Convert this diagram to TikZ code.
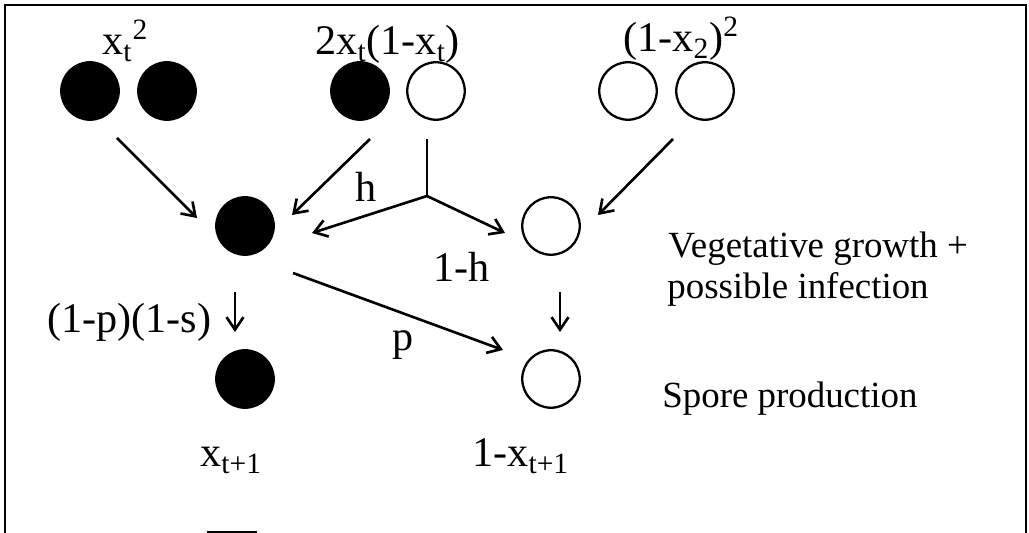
\documentclass[tikz,border=0pt]{standalone}
\usepackage{fontspec}
\setmainfont{Liberation Serif}
\usepackage{tikz}
\usetikzlibrary{arrows.meta,positioning}

\begin{document}
\begin{tikzpicture}[x=0.02cm, y=-0.02cm,
      fullcell/.style={circle, draw, fill=black, line width=1.3pt,
                       minimum size=1.15cm, inner sep=0pt},
      opencell/.style={circle, draw, line width=1.3pt,
                       minimum size=1.15cm, inner sep=0pt},
      flow/.style={-{Straight Barb[length=2.5mm, width=3.4mm]}, line width=1.5pt},
      freq/.style={font=\fontsize{24}{28}\selectfont, anchor=base west, inner sep=0pt},
      stage/.style={font=\fontsize{21}{25}\selectfont, anchor=base west, inner sep=0pt},
    ]
    \useasboundingbox (0,0) rectangle (1029,533);
    % Frame, open at the bottom
    \draw[line width=1.4pt] (5,533) -- (5,5) -- (1026,5) -- (1026,533);
    \draw[line width=0.8pt] (207,532) -- (257,532);

    % Parent genotypes
    \foreach \name/\x in {bb1/90, bb2/167, bw1/360}
      \node[fullcell] (\name) at (\x, 91) {};
    \foreach \name/\x in {bw2/436, ww1/628, ww2/705}
      \node[opencell] (\name) at (\x, 91) {};
    \node[freq] (fbb) at (102, 55) {x\textsubscript{t}\textsuperscript{2}};
    \node[freq] (fbw) at (315, 55) {2x\textsubscript{t}(1-x\textsubscript{t})};
    \node[freq] (fww) at (623, 52) {(1-x\textsubscript{2})\textsuperscript{2}};

    % Offspring after growth, and after spores
    \node[fullcell] (midb) at (245, 226) {};
    \node[opencell] (midw) at (551, 226) {};
    \node[fullcell] (spb) at (245, 379) {};
    \node[opencell] (spw) at (551, 379) {};
    \node[freq] (fxb) at (200, 467) {x\textsubscript{t+1}};
    \node[freq] (fxw) at (472, 467) {1-x\textsubscript{t+1}};

    % Arrow ends
    \coordinate (bbout) at (117, 138);
    \coordinate (bbin)  at (197, 218);
    \coordinate (bwout) at (370, 139);
    \coordinate (bwin)  at (292, 215);
    \coordinate (mixout) at (427, 139);
    \coordinate (split) at (427, 196);
    \coordinate (hin)   at (312, 233);
    \coordinate (nhin)  at (505, 233);
    \coordinate (wwout) at (673, 139);
    \coordinate (wwin)  at (598, 215);
    \coordinate (pout)  at (293, 273);
    \coordinate (pin)   at (503, 350);
    \coordinate (sbout) at (235, 292);
    \coordinate (sbin)  at (235, 332);
    \coordinate (swout) at (560, 292);
    \coordinate (swin)  at (560, 332);

    \draw[flow] (bbout) -- (bbin);
    \draw[flow] (bwout) -- (bwin);
    \draw[line width=1.5pt] (mixout) -- (split);
    \draw[flow] (split) -- (hin);
    \draw[flow] (split) -- (nhin);
    \draw[flow] (wwout) -- (wwin);
    \draw[flow] (pout) -- (pin);
    \draw[flow] (sbout) -- (sbin);
    \draw[flow] (swout) -- (swin);

    % Branch labels
    \node[freq] (lh) at (355, 202) {h};
    \node[freq] (lnh) at (433, 282) {1-h};
    \node[freq] (lp) at (392, 351) {p};
    \node[freq] (lsurv) at (47, 333) {(1-p)(1-s)};

    % Stages
    \node[stage] (veg) at (668, 258) {Vegetative growth +};
    \node[stage] (inf) at (667, 299) {possible infection};
    \node[stage] (spore) at (662, 408) {Spore production};
  \end{tikzpicture}
\end{document}
